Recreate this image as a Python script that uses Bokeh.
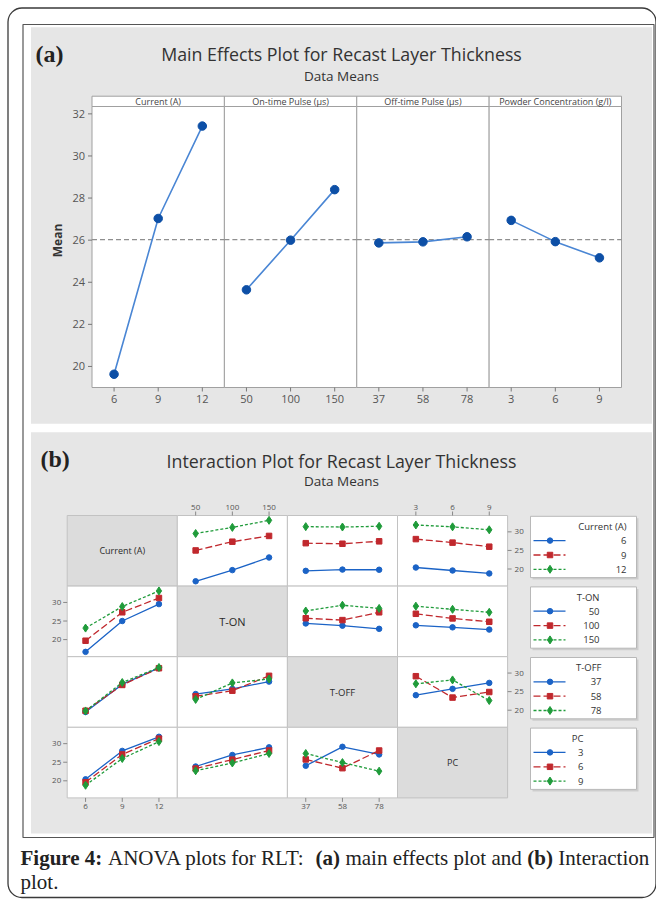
import numpy as np
from bokeh.plotting import figure
from bokeh.models import Range1d
from bokeh.core.properties import value
from bokeh.embed import file_html
from bokeh.resources import INLINE

SANS = value("Open Sans")
SERIF = value("Liberation Serif")

# ---------------- data ----------------
me_titles = ["Current (A)", "On-time Pulse (µs)", "Off-time Pulse (µs)", "Powder Concentration (g/l)"]
current_levels = ["6", "9", "12"]
ton_levels = ["50", "100", "150"]
toff_levels = ["37", "58", "78"]
pc_levels = ["3", "6", "9"]
me_current = [19.63, 27.03, 31.42]
me_ton = [23.64, 26.00, 28.40]
me_toff = [25.87, 25.92, 26.16]
me_pc = [26.94, 25.93, 25.16]
me_yticks = [20, 22, 24, 26, 28, 30, 32]

int_names = ["Current (A)", "T-ON", "T-OFF", "PC"]
# interaction means: rows = levels of the first factor, columns = levels of the second
cur_ton = [[16.7, 19.7, 23.1], [25.0, 27.35, 28.9], [29.55, 31.2, 33.1]]
cur_toff = [[19.5, 19.85, 19.8], [26.95, 26.8, 27.45], [31.4, 31.3, 31.5]]
cur_pc = [[20.4, 19.6, 18.8], [28.05, 27.1, 26.0], [31.85, 31.35, 30.55]]
ton_toff = [[24.35, 23.75, 22.9], [25.75, 25.25, 27.35], [27.7, 29.25, 28.4]]
ton_pc = [[23.85, 23.3, 22.7], [26.95, 25.7, 24.8], [29.0, 28.15, 27.35]]
toff_pc = [[24.05, 25.75, 27.35], [29.15, 23.4, 24.9], [27.1, 28.15, 22.6]]
int_yticks = [20, 25, 30]

# ---------------- styling / layout ----------------
BLUE, RED, GREEN = "#1b63c6", "#c0282d", "#1f9b3a"
TXT, TICK = "#333333", "#555555"
PANEL_GRAY, DIAG_GRAY, CELL_LINE = "#e6e6e6", "#dcdcdc", "#c2c2c2"

W, H = 656, 902
p = figure(width=W, height=H, x_range=Range1d(0, W), y_range=Range1d(H, 0),
           output_backend="svg", toolbar_location=None, x_axis_type=None, y_axis_type=None,
           min_border=0, outline_line_color=None, background_fill_color="white",
           border_fill_color="white")


def txt(x, y, text, size, color=TXT, align="center", baseline="middle", font=SANS,
        style="normal", angle=0.0, g=None, x_offset=0, y_offset=0):
    g = p if g is None else g
    g.text(x=x, y=y, text=text, text_font=font, text_font_size=f"{size}px",
           text_color=color, text_align=align, text_baseline=baseline,
           text_font_style=style, angle=angle, x_offset=x_offset, y_offset=y_offset)


def sub(x0, x1, ybot, ytop, xs=(-0.5, 2.5), ys=(0, 1)):
    return p.subplot(x_source=Range1d(*xs), y_source=Range1d(*ys),
                     x_target=Range1d(x0, x1), y_target=Range1d(ybot, ytop))


IDX = [0, 1, 2]

# frame and backgrounds
p.quad(left=7.5, right=655.5, top=7.5, bottom=897, border_radius=14,
       fill_color=None, line_color="#3a3a3a", line_width=1.3)
p.quad(left=22.5, right=653.5, top=24, bottom=837, fill_color=None,
       line_color="#555555", line_width=1.2)
p.quad(left=30.5, right=651.5, top=26.7, bottom=423.3, fill_color=PANEL_GRAY, line_color=None)
p.quad(left=30.5, right=651.5, top=431.7, bottom=833, fill_color=PANEL_GRAY, line_color=None)

# ---------------- (a) main effects ----------------
txt([35], [53], ["(a)"], 24, color="#222222", align="left", font=SERIF, style="bold")
txt([341], [53], ["Main Effects Plot for Recast Layer Thickness"], 17.8)
txt([341], [75], ["Data Means"], 13.5)
txt([57.3], [240], ["Mean"], 12, style="bold", angle=np.pi / 2)

ME_L, ME_R, ME_TOP, ME_BOT, STRIP_TOP = 91.5, 621.0, 106.0, 387.0, 95.7
ME_Y = (19.0, 32.35)
me_edges = np.linspace(ME_L, ME_R, 5)
me_vals = [me_current, me_ton, me_toff, me_pc]
me_levels = [current_levels, ton_levels, toff_levels, pc_levels]
grand_mean = float(np.mean(me_current))

for k in range(4):
    l, r = me_edges[k], me_edges[k + 1]
    p.quad(left=l, right=r, top=ME_TOP, bottom=ME_BOT, fill_color="white",
           line_color="#a0a0a0", line_width=1)
    p.quad(left=l, right=r, top=STRIP_TOP, bottom=ME_TOP, fill_color="white",
           line_color="#a0a0a0", line_width=1)
    txt([(l + r) / 2], [(STRIP_TOP + ME_TOP) / 2 + 0.5], [me_titles[k]], 9, color="#444444")

for k in range(4):
    l, r = me_edges[k], me_edges[k + 1]
    s = sub(l, r, ME_BOT, ME_TOP, ys=ME_Y)
    s.line(x=[-0.5, 2.5], y=[grand_mean, grand_mean], line_color="#8f8f8f",
           line_dash="5 3", line_width=1.1)
    s.line(x=IDX, y=me_vals[k], line_color="#4a86d4", line_width=1.6)
    s.scatter(x=IDX, y=me_vals[k], marker="circle", size=8.5, fill_color="#0d4fa6",
              line_color="#0d4fa6")
    txt(IDX, [ME_Y[0]] * 3, me_levels[k], 11, color=TICK, g=s, y_offset=11)
    tk = sub(l, r, ME_BOT, ME_BOT + 4)
    tk.segment(x0=IDX, x1=IDX, y0=[0] * 3, y1=[1] * 3, line_color="#777777")
    if k == 0:
        txt([-0.5] * len(me_yticks), me_yticks, [str(t) for t in me_yticks], 11,
            color=TICK, align="right", g=s, x_offset=-7)
        ty = p.subplot(x_source=Range1d(0, 1), y_source=Range1d(*ME_Y),
                       x_target=Range1d(ME_L - 4, ME_L), y_target=Range1d(ME_BOT, ME_TOP))
        ty.segment(x0=[0] * len(me_yticks), x1=[1] * len(me_yticks), y0=me_yticks,
                   y1=me_yticks, line_color="#777777")

# ---------------- (b) interaction plot ----------------
txt([40], [458], ["(b)"], 24, color="#222222", align="left", font=SERIF, style="bold")
txt([341], [460], ["Interaction Plot for Recast Layer Thickness"], 17.8)
txt([341], [480], ["Data Means"], 13.5)

IM_L, IM_R, IM_T, IM_B = 66.7, 507.1, 515.0, 797.4
IM_Y = (15.4, 34.4)
col_edges = np.linspace(IM_L, IM_R, 5)
row_edges = np.linspace(IM_T, IM_B, 5)
pairs = {(0, 1): cur_ton, (0, 2): cur_toff, (0, 3): cur_pc,
         (1, 2): ton_toff, (1, 3): ton_pc, (2, 3): toff_pc}
styles = [dict(color=BLUE, dash="solid", marker="circle", size=5.5),
          dict(color=RED, dash="7 3", marker="square", size=5.5),
          dict(color=GREEN, dash="3 2", marker="diamond", size=8)]
diag_sizes = [9, 11, 9.5, 9]

for r in range(4):
    for c in range(4):
        l, rr = col_edges[c], col_edges[c + 1]
        t, b = row_edges[r], row_edges[r + 1]
        p.quad(left=l, right=rr, top=t, bottom=b,
               fill_color=DIAG_GRAY if r == c else "white", line_color=CELL_LINE, line_width=1)
        if r == c:
            txt([(l + rr) / 2], [(t + b) / 2], [int_names[r]], diag_sizes[r], color="#2a2a2a")

for r in range(4):
    for c in range(4):
        if r == c:
            continue
        l, rr = col_edges[c], col_edges[c + 1]
        t, b = row_edges[r], row_edges[r + 1]
        M = np.array(pairs[(r, c)]) if r < c else np.array(pairs[(c, r)]).T
        s = sub(l, rr, b, t, ys=IM_Y)
        for k in range(3):
            st = styles[k]
            s.line(x=IDX, y=list(M[k]), line_color=st["color"], line_dash=st["dash"],
                   line_width=1.3)
            s.scatter(x=IDX, y=list(M[k]), marker=st["marker"], size=st["size"],
                      fill_color=st["color"], line_color=st["color"])

levels_all = [current_levels, ton_levels, toff_levels, pc_levels]
# top axis (columns 2 and 4), bottom axis (columns 1 and 3)
for c in (1, 3):
    l, rr = col_edges[c], col_edges[c + 1]
    s = sub(l, rr, row_edges[1], row_edges[0], ys=IM_Y)
    txt(IDX, [IM_Y[1]] * 3, levels_all[c], 8, color=TICK, g=s, y_offset=-8.5)
    tk = sub(l, rr, IM_T, IM_T - 4)
    tk.segment(x0=IDX, x1=IDX, y0=[0] * 3, y1=[1] * 3, line_color="#888888")
for c in (0, 2):
    l, rr = col_edges[c], col_edges[c + 1]
    s = sub(l, rr, row_edges[4], row_edges[3], ys=IM_Y)
    txt(IDX, [IM_Y[0]] * 3, levels_all[c], 8, color=TICK, g=s, y_offset=8.5)
    tk = sub(l, rr, IM_B, IM_B + 4)
    tk.segment(x0=IDX, x1=IDX, y0=[0] * 3, y1=[1] * 3, line_color="#888888")
# left axis (rows 2 and 4), right axis (rows 1 and 3)
yt_lab = [str(v) for v in int_yticks]
for r in (1, 3):
    ty = p.subplot(x_source=Range1d(0, 1), y_source=Range1d(*IM_Y),
                   x_target=Range1d(IM_L - 4, IM_L), y_target=Range1d(row_edges[r + 1], row_edges[r]))
    ty.segment(x0=[0] * 3, x1=[1] * 3, y0=int_yticks, y1=int_yticks, line_color="#888888")
    txt([0] * 3, int_yticks, yt_lab, 8, color=TICK, align="right", g=ty, x_offset=-2)
for r in (0, 2):
    ty = p.subplot(x_source=Range1d(0, 1), y_source=Range1d(*IM_Y),
                   x_target=Range1d(IM_R, IM_R + 4), y_target=Range1d(row_edges[r + 1], row_edges[r]))
    ty.segment(x0=[0] * 3, x1=[1] * 3, y0=int_yticks, y1=int_yticks, line_color="#888888")
    txt([1] * 3, int_yticks, yt_lab, 8, color=TICK, align="left", g=ty, x_offset=3)

# legends
LG_L, LG_R = 530, 636
label_x = [626, 599, 601, 583]
for r in range(4):
    top = row_edges[r] + 0.8
    bot = top + 61.3
    p.quad(left=LG_L + 2, right=LG_R + 2, top=top + 2, bottom=bot + 2, fill_color="#cdcdcd",
           line_color=None)
    p.quad(left=LG_L, right=LG_R, top=top, bottom=bot, fill_color="white",
           line_color="#b8b8b8", line_width=1)
    txt([label_x[r]], [top + 10.3], [int_names[r]], 9.5, align="right")
    item_y = [top + 24.3, top + 38.7, top + 53.0]
    txt([label_x[r]] * 3, item_y, levels_all[r], 9.5, align="right")
    for k in range(3):
        st = styles[k]
        p.line(x=[533, 565], y=[item_y[k]] * 2, line_color=st["color"], line_dash=st["dash"],
               line_width=1.3)
        p.scatter(x=[549.5], y=[item_y[k]], marker=st["marker"], size=st["size"],
                  fill_color=st["color"], line_color=st["color"])

# ---------------- caption ----------------
CAP_Y1, CAP_Y2, CAP_SIZE = 857, 881, 21
cap_parts = [("Figure 4:", "bold", 20.0), ("ANOVA plots for RLT:", "normal", 107.5),
             ("(a)", "bold", 315.1), ("main effects plot and", "normal", 344.9),
             ("(b)", "bold", 526.8), ("Interaction", "normal", 557.8)]
for s_, style, x in cap_parts:
    txt([x], [CAP_Y1], [s_], CAP_SIZE, color="#222222", align="left", font=SERIF, style=style)
txt([20], [CAP_Y2], ["plot."], CAP_SIZE, color="#222222", align="left", font=SERIF)

open("out.html", "w").write(file_html(p, INLINE))
